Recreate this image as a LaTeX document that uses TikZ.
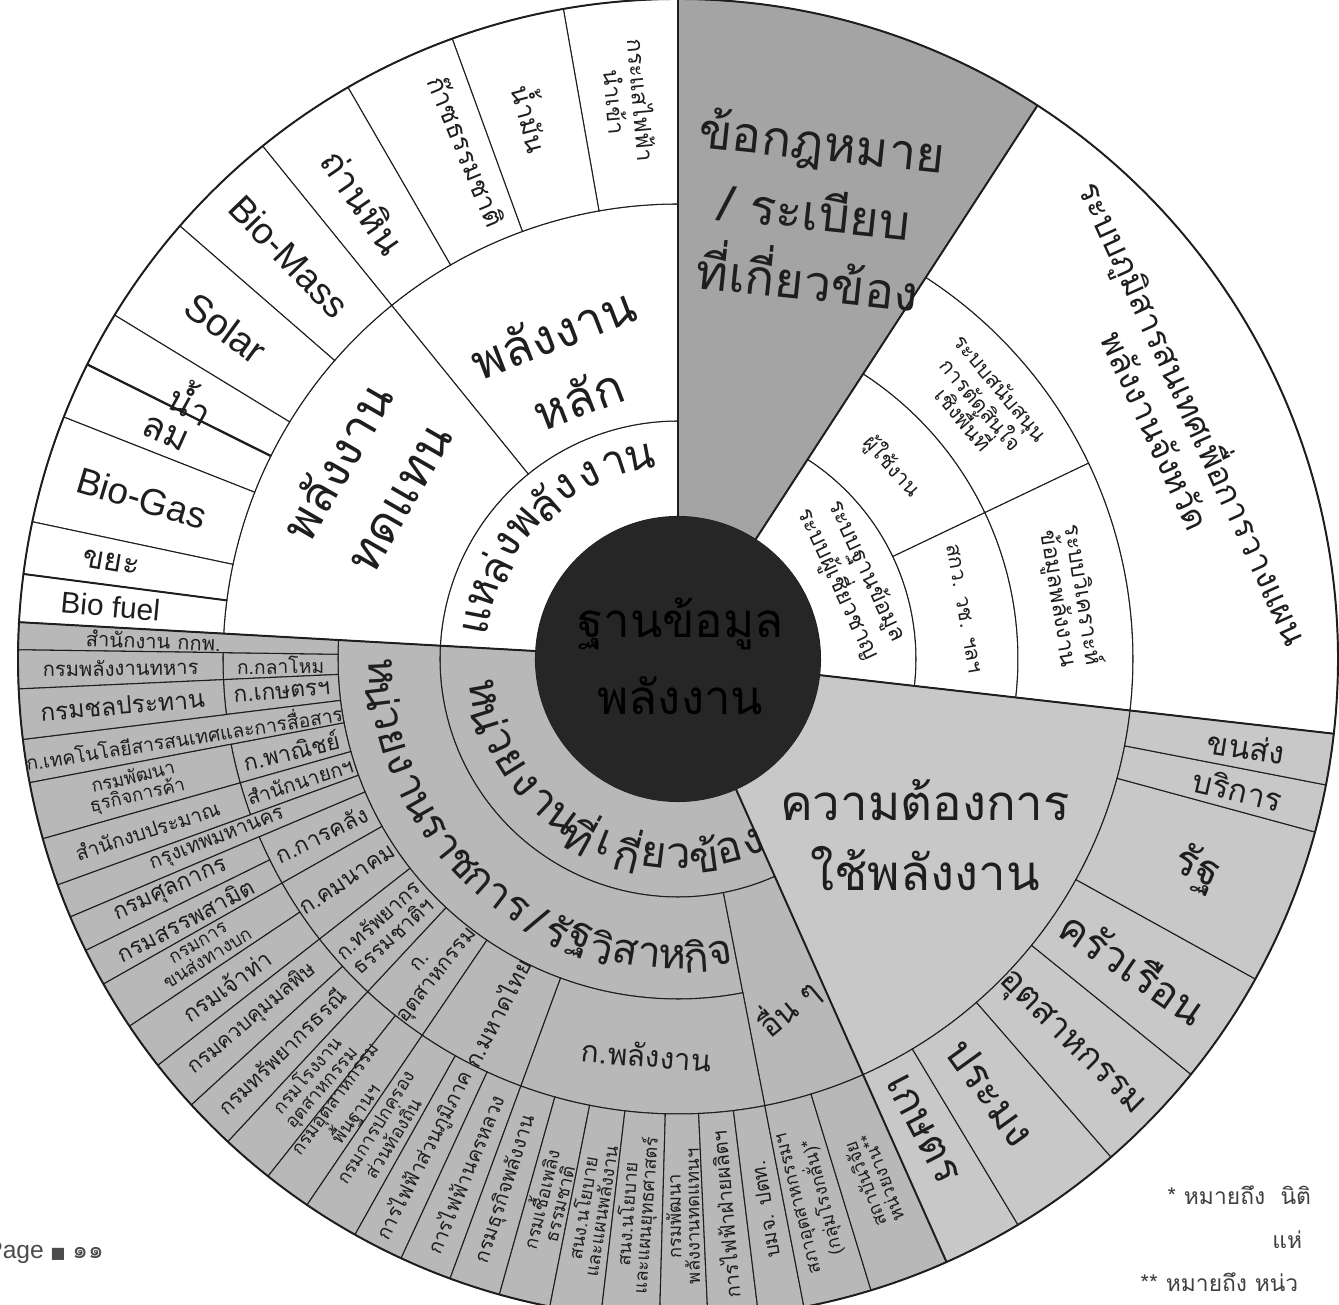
\documentclass[tikz,border=0pt]{standalone}
\usepackage{fontspec}
\setmainfont{Liberation Sans}
\newfontfamily\thaifont[Script=Thai]{Loma}
\newfontfamily\symfont{DejaVu Sans}
\definecolor{lawgray}{HTML}{A4A4A4}
\definecolor{unitgray}{HTML}{B8B8B8}
\definecolor{usegray}{HTML}{C8C8C8}
\definecolor{coregray}{HTML}{262626}
\definecolor{inkgray}{HTML}{1E1E1E}

% one annular cell: fill, start angle, end angle, inner radius, outer radius
\newcommand{\wedgecell}[5]{%
  \filldraw[cellline, fill=#1] (#2:#4) arc[start angle=#2, end angle=#3, radius=#4]
    -- (#3:#5) arc[start angle=#3, end angle=#2, radius=#5] -- cycle;}

\begin{document}
\begin{tikzpicture}[
  cellline/.style={draw=inkgray, line width=0.6pt},
  deptxt/.style={font=\thaifont\fontsize{11.5}{12}\selectfont, text=inkgray, inner sep=0pt, align=center},
  pairtxt/.style={font=\thaifont\fontsize{10.5}{10.5}\selectfont, text=inkgray, inner sep=0pt, align=center},
  srctxt/.style={font=\thaifont\fontsize{21}{22}\selectfont, text=inkgray, inner sep=0pt, align=center},
  bigtxt/.style={font=\thaifont\fontsize{28}{40}\selectfont, text=inkgray, inner sep=0pt, align=center},
  arctxt/.style={font=\thaifont\fontsize{25}{25}\selectfont, text=inkgray, inner sep=0pt},
  footnote/.style={font=\thaifont\fontsize{13}{13}\selectfont, text=black!75, inner sep=0pt}
]

\fill[white] (-13.56,-12.92) rectangle (13.22,13.18);
\useasboundingbox (-13.56,-12.92) rectangle (13.22,13.18);

% Energy sources (white)
\wedgecell{white}{90}{176.8}{2.85}{4.76}
\wedgecell{white}{90}{129}{4.76}{9.1}
\wedgecell{white}{129}{176.8}{4.76}{9.1}
\foreach \a/\b in {90/100, 100/110, 110/120, 120/129, 129/139, 139/148.6,
                   148.6/153.5, 153.5/158.5, 158.5/168, 168/172.6, 172.6/176.8}
  {\wedgecell{white}{\a}{\b}{9.1}{13.2}}
\draw[inkgray, line width=1.3pt] (153.5:9.1) -- (153.5:13.2);
\draw[inkgray, line width=1.1pt] (172.6:9.1) -- (172.6:13.2);

% Laws and rules
\wedgecell{lawgray}{57}{90}{2.85}{13.2}

% Systems (white, upper right)
\wedgecell{white}{-6.5}{57}{2.85}{4.76}
\wedgecell{white}{25.5}{57}{4.76}{6.8}
\wedgecell{white}{-6.5}{25.5}{4.76}{6.8}
\wedgecell{white}{25.5}{57}{6.8}{9.1}
\wedgecell{white}{-6.5}{25.5}{6.8}{9.1}
\wedgecell{white}{-6.5}{57}{9.1}{13.2}

% Energy demand
\wedgecell{usegray}{-66}{-6.5}{2.85}{9.1}
\foreach \a/\b in {-66/-59, -59/-49, -49/-39, -39/-29, -29/-15.2, -15.2/-11, -11/-6.5}
  {\wedgecell{usegray}{\a}{\b}{9.1}{13.2}}

% Agencies
\wedgecell{unitgray}{176.8}{294}{2.85}{4.76}
\wedgecell{unitgray}{176.8}{281}{4.76}{6.8}
\wedgecell{unitgray}{281}{294}{4.76}{9.1}
\foreach \a/\b in {179.2/182.6, 182.6/187, 190.8/195.8, 195.8/200, 203/209.5, 209.5/218,
                   218/227, 227/235.8, 235.8/249.8, 249.8/281}
  {\wedgecell{unitgray}{\a}{\b}{6.8}{9.1}}
\foreach \a/\b in {176.8/179.2, 187/190.8, 200/203}
  {\wedgecell{unitgray}{\a}{\b}{6.8}{13.2}}
\foreach \a/\b in {179.2/182.6, 182.6/187, 190.8/195.8, 195.8/200, 203/206.2, 206.2/209.5,
                   209.5/213.8, 213.8/218, 218/222.5, 222.5/227, 227/231.6, 231.6/235.8,
                   235.8/240.7, 240.7/245.2, 245.2/249.8, 249.8/254.3, 254.3/258.8,
                   258.8/263.3, 263.3/268.4, 268.4/272.6, 272.6/277, 277/281, 281/287, 287/294}
  {\wedgecell{unitgray}{\a}{\b}{9.1}{13.2}}

% Main sector borders
\foreach \a in {90, 57, -6.5, -66, 176.8}
  \draw[inkgray, line width=1.1pt] (\a:2.85) -- (\a:13.2);
\draw[inkgray, line width=1.1pt] (0,0) circle (13.2);

% Core
\fill[coregray] (0,0) circle (2.85);
\node[bigtxt, text=black, font=\thaifont\fontsize{27}{44}\selectfont] (core) at (0.05,0.05) {ฐานข้อมูล\\พลังงาน};

% Curved ring titles
\foreach \ch [count=\i from 0] in {แ,ห,ล่,ง,พ,ลั,ง,ง,า,น} {
  \pgfmathsetmacro{\ang}{169-\i*7.6}
  \node[arctxt, rotate=\ang-90] (srcarc-\i) at (\ang:4.1) {\ch};
}
\foreach \ch [count=\i from 0] in {ห,น่,ว,ย,ง,า,น,ที่,เ,กี่,ย,ว,ข้,อ,ง} {
  \pgfmathsetmacro{\ang}{190+\i*7.3}
  \node[arctxt, rotate=\ang+90] (unitarc-\i) at (\ang:3.95) {\ch};
}
\foreach \ch [count=\i from 0] in {ห,น่,ว,ย,ง,า,น,ร,า,ช,ก,า,ร,/,รั,ฐ,วิ,ส,า,ห,กิ,จ} {
  \pgfmathsetmacro{\ang}{182.5+\i*4.55}
  \node[arctxt, font=\thaifont\fontsize{24}{24}\selectfont, rotate=\ang+90] (govarc-\i) at (\ang:5.95) {\ch};
}

% Energy source labels
\node[bigtxt, rotate=21] (main) at (111:6.3) {พลังงาน\\หลัก};
\node[bigtxt, rotate=60] (alt) at (150:7.2) {พลังงาน\\ทดแทน};
\node[srctxt, rotate=-85, font=\thaifont\fontsize{13}{15}\selectfont] (elec) at (95:11.2) {กระแสไฟฟ้า\\นำเข้า};
\node[srctxt, rotate=-75, font=\thaifont\fontsize{15}{16}\selectfont] (oil) at (105:11.2) {น้ำมัน};
\node[srctxt, rotate=-67.5, font=\thaifont\fontsize{15}{16}\selectfont] (gas) at (112.5:11.0) {ก๊าซธรรมชาติ};
\node[srctxt, rotate=-55.5] (coal) at (124.5:11.1) {ถ่านหิน};
\node[srctxt, rotate=-46, font=\fontsize{21}{22}\selectfont] (biomass) at (134:11.2) {Bio-Mass};
\node[srctxt, rotate=-36.2, font=\fontsize{22}{22}\selectfont] (solar) at (143.8:11.2) {Solar};
\node[srctxt, rotate=-29, font=\thaifont\fontsize{20}{20}\selectfont] (hydro) at (152:11.0) {น้ำ};
\node[srctxt, rotate=-24] (wind) at (156.3:11.2) {ลม};
\node[srctxt, rotate=-16.7, font=\fontsize{21}{22}\selectfont] (biogas) at (163.3:11.2) {Bio-Gas};
\node[srctxt, rotate=-9.7, font=\thaifont\fontsize{18}{18}\selectfont] (waste) at (170.3:11.5) {ขยะ};
\node[srctxt, rotate=-5.3, font=\fontsize{17}{17}\selectfont] (biofuel) at (174.7:11.4) {Bio fuel};

% Laws label
\node[bigtxt, rotate=-6] (law) at (2.74,8.98) {ข้อกฎหมาย\\/ ระเบียบ\\ที่เกี่ยวข้อง};

% Systems labels
\node[deptxt, rotate=-65, font=\thaifont\fontsize{13}{14}\selectfont] (sysa) at (25:3.85) {ระบบฐานข้อมูล\\ระบบผู้เชี่ยวชาญ};
\node[deptxt, rotate=-48, font=\thaifont\fontsize{12}{13}\selectfont] (sysb) at (42:5.75) {ผู้ใช้งาน};
\node[deptxt, rotate=-80, font=\thaifont\fontsize{12}{13}\selectfont] (sysc) at (10:5.8) {สกว. วช. ฯลฯ};
\node[deptxt, rotate=-50, font=\thaifont\fontsize{12}{13}\selectfont] (sysd) at (40:7.95) {ระบบสนับสนุน\\การตัดสินใจ\\เชิงพื้นที่};
\node[deptxt, rotate=-81, font=\thaifont\fontsize{13}{14}\selectfont] (syse) at (9:7.95) {ระบบวิเคราะห์\\ข้อมูลพลังงาน};
\node[deptxt, rotate=-65.5, font=\thaifont\fontsize{19}{24}\selectfont] (sysf) at (25.5:11.1) {ระบบภูมิสารสนเทศเพื่อการวางแผน\\พลังงานจังหวัด};

% Demand labels
\node[bigtxt] (demand) at (4.94,-3.52) {ความต้องการ\\ใช้พลังงาน};
\node[srctxt, rotate=-62.5, font=\thaifont\fontsize{24}{24}\selectfont] (farm) at (297.5:10.6) {เกษตร};
\node[srctxt, rotate=-54.2, font=\thaifont\fontsize{24}{24}\selectfont] (fish) at (305.8:10.7) {ประมง};
\node[srctxt, rotate=-44.5, font=\thaifont\fontsize{20}{20}\selectfont] (industry) at (315.5:11.0) {อุตสาหกรรม};
\node[srctxt, rotate=-34.5, font=\thaifont\fontsize{24}{24}\selectfont] (home) at (326:11.0) {ครัวเรือน};
\node[srctxt, rotate=-22, font=\thaifont\fontsize{24}{24}\selectfont] (state) at (338:11.2) {รัฐ};
\node[srctxt, rotate=-13.1, font=\thaifont\fontsize{18}{18}\selectfont] (service) at (346.9:11.5) {บริการ};
\node[srctxt, rotate=-8.8, font=\thaifont\fontsize{18}{18}\selectfont] (transport) at (351.2:11.5) {ขนส่ง};

% Ministries (inner ring)
\node[deptxt, rotate=0.9, font=\thaifont\fontsize{11}{11}\selectfont] (mdef) at (180.9:7.95) {ก.กลาโหม};
\node[deptxt, rotate=4.8, font=\thaifont\fontsize{13}{13}\selectfont] (magr) at (184.8:7.95) {ก.เกษตรฯ};
\node[deptxt, rotate=13.3, font=\thaifont\fontsize{13}{13}\selectfont] (mcom) at (193.3:7.95) {ก.พาณิชย์};
\node[deptxt, rotate=17.9] (mpm) at (197.9:7.95) {สำนักนายกฯ};
\node[deptxt, rotate=26.2, font=\thaifont\fontsize{13}{13}\selectfont] (mfin) at (206.2:7.95) {ก.การคลัง};
\node[deptxt, rotate=33.8, font=\thaifont\fontsize{13}{13}\selectfont] (mtra) at (213.8:7.95) {ก.คมนาคม};
\node[pairtxt, rotate=42.5, font=\thaifont\fontsize{12}{12.5}\selectfont] (mnat) at (222.5:7.95) {ก.ทรัพยากร\\ธรรมชาติฯ};
\node[pairtxt, rotate=51.4, font=\thaifont\fontsize{12}{12.5}\selectfont] (mind) at (231.4:7.95) {ก.\\อุตสาหกรรม};
\node[deptxt, rotate=62.8, font=\thaifont\fontsize{13}{13}\selectfont] (mint) at (242.8:7.95) {ก.มหาดไทย};
\node[deptxt, rotate=-4.5, font=\thaifont\fontsize{17}{17}\selectfont] (meng) at (265.5:7.95) {ก.พลังงาน};
\node[deptxt, rotate=40, font=\thaifont\fontsize{18}{18}\selectfont] (other) at (287.5:7.3) {อื่น ๆ};

% Departments (outer ring)
\node[deptxt, rotate=-2] (erc) at (178:10.5) {สำนักงาน กกพ.};
\node[deptxt, rotate=0.9] (dmil) at (180.9:11.15) {กรมพลังงานทหาร};
\node[deptxt, rotate=4.8, font=\thaifont\fontsize{14}{14}\selectfont] (dirr) at (184.8:11.15) {กรมชลประทาน};
\node[deptxt, rotate=8.9, font=\thaifont\fontsize{11}{11}\selectfont] (mict) at (188.9:10.0) {ก.เทคโนโลยีสารสนเทศและการสื่อสาร};
\node[pairtxt, rotate=13.3] (dbd) at (193.3:11.15) {กรมพัฒนา\\ธุรกิจการค้า};
\node[deptxt, rotate=17.9] (bb) at (197.9:11.15) {สำนักงบประมาณ};
\node[deptxt, rotate=21.5] (bma) at (201.5:9.9) {กรุงเทพมหานคร};
\node[deptxt, rotate=24.6, font=\thaifont\fontsize{13}{13}\selectfont] (dcus) at (204.6:11.15) {กรมศุลกากร};
\node[deptxt, rotate=27.9, font=\thaifont\fontsize{13}{13}\selectfont] (dexc) at (207.9:11.15) {กรมสรรพสามิต};
\node[pairtxt, rotate=31.6] (dlt) at (211.6:11.15) {กรมการ\\ขนส่งทางบก};
\node[deptxt, rotate=35.9, font=\thaifont\fontsize{13}{13}\selectfont] (dmd) at (215.9:11.15) {กรมเจ้าท่า};
\node[deptxt, rotate=40.2, font=\thaifont\fontsize{12}{12}\selectfont] (dpcd) at (220.2:11.15) {กรมควบคุมมลพิษ};
\node[deptxt, rotate=44.7, font=\thaifont\fontsize{12}{12}\selectfont] (dmr) at (224.7:11.15) {กรมทรัพยากรธรณี};
\node[pairtxt, rotate=49.3] (diw) at (229.3:11.15) {กรมโรงงาน\\อุตสาหกรรม};
\node[pairtxt, rotate=53.7] (dpim) at (233.7:11.15) {กรมอุตสาหกรรม\\พื้นฐานฯ};
\node[pairtxt, rotate=58.2] (dla) at (238.2:11.15) {กรมการปกครอง\\ส่วนท้องถิ่น};
\node[deptxt, rotate=63] (pea) at (243:11.15) {การไฟฟ้าส่วนภูมิภาค};
\node[deptxt, rotate=67.5] (mea) at (247.5:11.15) {การไฟฟ้านครหลวง};
\node[deptxt, rotate=72] (doeb) at (252:11.15) {กรมธุรกิจพลังงาน};
\node[pairtxt, rotate=76.5] (dmf) at (256.5:11.15) {กรมเชื้อเพลิง\\ธรรมชาติ};
\node[pairtxt, rotate=81] (eppo) at (261:11.15) {สนง.นโยบาย\\และแผนพลังงาน};
\node[pairtxt, rotate=85.8] (spo) at (265.8:11.15) {สนง.นโยบาย\\และแผนยุทธศาสตร์};
\node[pairtxt, rotate=90.5] (dede) at (270.5:11.15) {กรมพัฒนา\\พลังงานทดแทนฯ};
\node[deptxt, rotate=94.8] (egat) at (274.8:11.15) {การไฟฟ้าฝ่ายผลิตฯ};
\node[deptxt, rotate=99] (ptt) at (279:11.15) {บมจ. ปตท.};
\node[pairtxt, rotate=104] (fti) at (284:11.15) {สภาอุตสาหกรรมฯ\\(กลุ่มโรงกลั่น)*};
\node[pairtxt, rotate=110.5] (res) at (290.5:11.15) {สถาบันวิจัย\\หน่วยงาน**};

% Footnotes
\node[footnote, anchor=west] (note1) at (9.78,-10.72) {* หมายถึง\ \ นิติ};
\node[footnote, anchor=west] (note2) at (11.88,-11.62) {แห่};
\node[footnote, anchor=west] (note3) at (9.24,-12.46) {** หมายถึง หน่ว};
\node[anchor=west, inner sep=0pt, text=black!70, font=\fontsize{14}{14}\selectfont] (pageno) at (-13.84,-11.88) {Page {\symfont\fontsize{9}{9}\selectfont ■} {\thaifont ๑๑}};

\end{tikzpicture}
\end{document}
